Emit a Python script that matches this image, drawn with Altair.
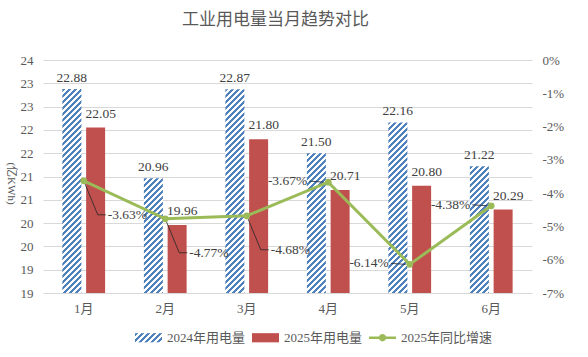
import json
import altair as alt

# ---------------- data ----------------
months = ["1月", "2月", "3月", "4月", "5月", "6月"]
use_2024 = [22.88, 20.96, 22.87, 21.50, 22.16, 21.22]
use_2025 = [22.05, 19.96, 21.80, 20.71, 20.80, 20.29]
yoy_2025 = [-3.63, -4.77, -4.68, -3.67, -6.14, -4.38]
series = ["2024年用电量", "2025年用电量", "2025年同比增速"]
left_ticks = [18.5, 19, 19.5, 20, 20.5, 21, 21.5, 22, 22.5, 23, 23.5]
right_ticks = [-7, -6, -5, -4, -3, -2, -1, 0]

# ---------------- style ----------------
BLUE = "#4F81BD"
RED = "#C0504D"
GREEN = "#9BBB59"
GRID = "#D9D9D9"
TXT = "#595959"
LBL = "#404040"
SERIF = "Liberation Serif, Noto Sans CJK SC"
PLOT_W, PLOT_H = 489, 233
Y_MIN, Y_MAX = 18.5, 23.5
BAR_W = 19.0


def hatch(w, h, period=6.0, frac=0.5):
    """diagonal /// hatch as a linear gradient over the item's bounding box"""
    L = w + h
    k = L / (w * w + h * h)
    stops = []
    t = 0.0
    p = period / L
    while t < 1.0:
        a = t
        b = min(1.0, t + frac * p)
        c = min(1.0, t + p)
        stops += [{"offset": a, "color": BLUE}, {"offset": b, "color": BLUE},
                  {"offset": b, "color": "#FFFFFF"}, {"offset": c, "color": "#FFFFFF"}]
        t += p
    return {"gradient": "linear", "x1": 0, "y1": 0, "x2": k * w, "y2": k * h, "stops": stops}


bar_rows = []
for m, a, b in zip(months, use_2024, use_2025):
    h = (a - Y_MIN) / (Y_MAX - Y_MIN) * PLOT_H
    bar_rows.append({"month": m, "series": series[0], "value": a, "grad": hatch(BAR_W, h)})
    bar_rows.append({"month": m, "series": series[1], "value": b, "grad": RED})
line_rows = [{"month": m, "yoy": v, "lab": f"{v:.2f}%"} for m, v in zip(months, yoy_2025)]
legend_rows = [{"s": s} for s in series]

bar_data = alt.Data(values=bar_rows)
line_data = alt.Data(values=line_rows)
legend_data = alt.Data(values=legend_rows)

x_enc = alt.X("month:N", sort=months,
              scale=alt.Scale(domain=months, paddingInner=0, paddingOuter=0),
              axis=alt.Axis(title=None, labelAngle=0, ticks=False, domainColor=GRID,
                            grid=False, labelPadding=9, labelFontSize=13, labelFont=SERIF,
                            labelColor=TXT))
x2_enc = alt.X2("month:N")

y_left = alt.Y("value:Q", scale=alt.Scale(domain=[Y_MIN, Y_MAX], zero=False, nice=False),
               axis=alt.Axis(values=left_ticks, labelExpr="format(datum.value, '.0f')",
                             title="(亿KWh)", titleAngle=90, titleX=-33, titleY=123,
                             titleAlign="center", titleBaseline="middle",
                             titleFont=SERIF, titleFontSize=11, titleFontWeight="normal",
                             titleColor=TXT, grid=True, gridColor=GRID, domain=False,
                             ticks=False, labelPadding=10, labelFontSize=13,
                             labelFont=SERIF, labelColor=TXT))
y_right = alt.Y("yoy:Q", scale=alt.Scale(domain=[-7, 0], zero=False, nice=False),
                axis=alt.Axis(orient="right", values=right_ticks,
                              labelExpr="datum.value + '%'", title=None, grid=False,
                              domain=False, ticks=False, labelPadding=10,
                              labelFontSize=13, labelFont=SERIF, labelColor=TXT))
y2_right = alt.Y2("yoy:Q")

bars = alt.Chart(bar_data).mark_bar().encode(
    x=x_enc,
    xOffset=alt.XOffset("series:N", scale=alt.Scale(domain=series[:2], paddingInner=0.2,
                                                    paddingOuter=0.816)),
    y=y_left,
    y2=alt.datum(Y_MIN),
    fill=alt.Fill("grad:N", scale=None),
)

lab24 = alt.Chart(bar_data).transform_filter(
    alt.datum.series == series[0]
).mark_text(dx=-12, dy=-4, baseline="bottom", font=SERIF, fontSize=13.5, color=LBL).encode(
    x=x_enc, y=y_left, text=alt.Text("value:Q", format=".2f"))

lab25 = alt.Chart(bar_data).transform_filter(
    alt.datum.series == series[1]
).mark_text(dx=17, dy=-7, baseline="bottom", font=SERIF, fontSize=13.5, color=LBL).encode(
    x=x_enc, y=y_left, text=alt.Text("value:Q", format=".2f"))

leg_params = dict(title=None, orient="none", direction="horizontal",
                  legendX=92, legendY=264, symbolSize=729, symbolOpacity=1,
                  symbolStrokeWidth=0, labelFont=SERIF, labelFontSize=13,
                  labelColor=TXT, labelOffset=5, columnPadding=6, padding=0)
legend_layer = alt.Chart(legend_data).mark_point(filled=True, opacity=0).encode(
    fill=alt.Fill("s:N", scale=alt.Scale(
        domain=series,
        range=[{"expr": json.dumps(hatch(27, 9.2, period=6.0))}, RED, GREEN]),
        legend=alt.Legend(**leg_params)),
    shape=alt.Shape("s:N", scale=alt.Scale(
        domain=series,
        range=["M-1,-0.34H1V0.34H-1Z", "M-1,-0.34H1V0.34H-1Z",
               "M-1,-0.1H1V0.1H-1Z M0.27,0A0.27,0.27,0,1,1,-0.27,0A0.27,0.27,0,1,1,0.27,0Z"]),
        legend=alt.Legend(**leg_params)),
)

left = alt.layer(bars, lab24, lab25, legend_layer)

first3 = alt.FieldOneOfPredicate(field="month", oneOf=months[:3])
last3 = alt.FieldOneOfPredicate(field="month", oneOf=months[3:])
LEAD = "#262626"

# leader lines (label callouts)
leadA1 = alt.Chart(line_data).transform_filter(first3).mark_rule(
    color=LEAD, strokeWidth=0.8, x2Offset=14, y2Offset=34).encode(
    x=x_enc, y=y_right, x2=x2_enc, y2=y2_right)
leadA2 = alt.Chart(line_data).transform_filter(first3).mark_rule(
    color=LEAD, strokeWidth=0.8, xOffset=14, yOffset=34, x2Offset=22, y2Offset=34).encode(
    x=x_enc, y=y_right, x2=x2_enc, y2=y2_right)
leadB = alt.Chart(line_data).transform_filter(last3).mark_rule(
    color=LEAD, strokeWidth=0.8, xOffset=-19, yOffset=-1, x2Offset=-4, y2Offset=0).encode(
    x=x_enc, y=y_right, x2=x2_enc, y2=y2_right)

line = alt.Chart(line_data).mark_line(color=GREEN, strokeWidth=3).encode(x=x_enc, y=y_right)
pts = alt.Chart(line_data).mark_point(filled=True, size=45, color=GREEN, opacity=1).encode(
    x=x_enc, y=y_right)
labA = alt.Chart(line_data).transform_filter(first3).mark_text(
    align="left", baseline="middle", dx=24, dy=34, font=SERIF, fontSize=13.5,
    color=LBL).encode(x=x_enc, y=y_right, text="lab:N")
labB = alt.Chart(line_data).transform_filter(last3).mark_text(
    align="right", baseline="middle", dx=-21, dy=-1, font=SERIF, fontSize=13.5,
    color=LBL).encode(x=x_enc, y=y_right, text="lab:N")

right = alt.layer(leadA1, leadA2, leadB, line, pts, labA, labB)

chart = alt.layer(left, right).resolve_scale(y="independent").properties(
    width=PLOT_W, height=PLOT_H,
    background="white",
    view=alt.ViewBackground(strokeWidth=0, strokeOpacity=0),
    autosize=alt.AutoSizeParams(type="none"),
    padding={"left": 43, "top": 60, "right": 56, "bottom": 64},
    title=alt.TitleParams("工业用电量当月趋势对比", font="Noto Sans CJK SC", fontSize=17,
                          fontWeight="normal", color=TXT, anchor="middle", dx=-12,
                          offset=25),
).configure_view(stroke="transparent", strokeWidth=0)

chart.save("out.html", embed_options={"renderer": "svg", "actions": False})
